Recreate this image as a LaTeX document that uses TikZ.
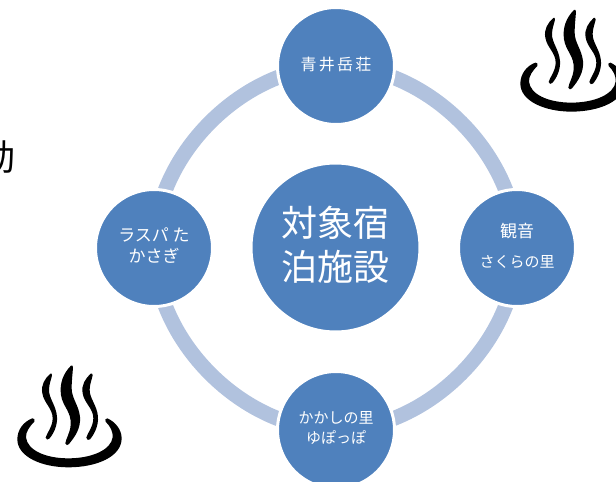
\documentclass[tikz,border=0pt]{standalone}
\usepackage{fontspec}
\setmainfont{Noto Sans CJK JP}
\newfontfamily\spreadfont[LetterSpace=14]{Noto Sans CJK JP}
\usetikzlibrary{backgrounds}
\definecolor{hub}{HTML}{4F81BD}
\definecolor{ringc}{HTML}{B1C2DE}
\tikzset{
  sat/.style={circle,fill=hub,draw=white,line width=3pt,minimum size=117pt,inner sep=0pt,text=white,align=center,text depth=5pt,font=\fontsize{15}{20.5}\selectfont},
  centre/.style={circle,fill=hub,draw=white,line width=3pt,minimum size=169pt,inner sep=0pt,text=white,align=center,text depth=8pt,font=\fontsize{36}{44}\selectfont},
  ringarc/.style={ringc,line width=15pt,line cap=butt,looseness=0.92},
  onsen/.pic={
    \begin{scope}[x=0.3333pt,y=-0.3333pt,fill=black,draw=none]
      \fill (213,47) .. controls (190,70) and (178,100) .. (183,135)
            .. controls (188,170) and (215,185) .. (212,225)
            .. controls (210,250) and (198,265) .. (196,280)
            .. controls (198,287) and (204,286) .. (207,282)
            .. controls (225,260) and (243,235) .. (240,200)
            .. controls (236,165) and (215,145) .. (215,115)
            .. controls (215,90) and (218,70) .. (219,52)
            .. controls (219,47) and (216,45) .. (213,47) -- cycle;
      \fill (151,71) .. controls (135,85) and (122,105) .. (127,130)
            .. controls (132,160) and (158,175) .. (158,205)
            .. controls (158,230) and (140,250) .. (137,263)
            .. controls (138,270) and (144,270) .. (148,266)
            .. controls (160,252) and (173,228) .. (171,200)
            .. controls (168,165) and (146,145) .. (147,118)
            .. controls (148,100) and (153,90) .. (156,76)
            .. controls (156,71) and (154,69) .. (151,71) -- cycle;
      \fill (272,71) .. controls (257,85) and (243,105) .. (248,130)
            .. controls (253,160) and (280,175) .. (280,205)
            .. controls (280,230) and (262,250) .. (259,263)
            .. controls (260,270) and (266,272) .. (270,268)
            .. controls (282,254) and (296,228) .. (294,200)
            .. controls (291,165) and (268,145) .. (269,118)
            .. controls (270,100) and (275,90) .. (278,76)
            .. controls (278,71) and (275,69) .. (272,71) -- cycle;
      \fill (97,205) .. controls (70,215) and (52,240) .. (52,268)
            .. controls (52,320) and (125,352) .. (205,352)
            .. controls (290,352) and (365,320) .. (365,265)
            .. controls (365,238) and (345,215) .. (322,205)
            .. controls (316,204) and (314,211) .. (317,215)
            .. controls (330,228) and (340,245) .. (338,262)
            .. controls (333,300) and (275,325) .. (205,325)
            .. controls (135,325) and (82,300) .. (78,262)
            .. controls (77,245) and (90,228) .. (103,215)
            .. controls (106,209) and (102,204) .. (97,205) -- cycle;
    \end{scope}
  }
}
\begin{document}
\begin{tikzpicture}[x=1pt,y=-1pt]
  \useasboundingbox (0,0) rectangle (616,482);
  \clip (0,0) rectangle (616,482);
  \node[centre] (c) at (335.5,247.5) {対象宿\\泊施設};
  \node[sat] (t) at (336,66) {{\spreadfont\fontsize{16}{20}\selectfont 青井岳荘}};
  \node[sat,font=\fontsize{15}{30}\selectfont] (r) at (517,248) {{\fontsize{17}{30}\selectfont 観音}\\さくらの里};
  \node[sat] (b) at (336,430) {かかしの里\\ゆぽっぽ};
  \node[sat,font=\fontsize{17}{21}\selectfont] (l) at (154,248) {ラスパ た\\かさぎ};
  \begin{scope}[on background layer]
    \draw[ringarc] (t.center) to[bend left=45] (r.center);
    \draw[ringarc] (r.center) to[bend left=45] (b.center);
    \draw[ringarc] (b.center) to[bend left=45] (l.center);
    \draw[ringarc] (l.center) to[bend left=45] (t.center);
  \end{scope}
  \node[anchor=east,inner sep=0pt,font=\fontsize{36}{36}\selectfont] (k) at (16,157) {動};
  \pic at (0,350) {onsen};
  \pic at (503,-5.7) {onsen};
\end{tikzpicture}
\end{document}
